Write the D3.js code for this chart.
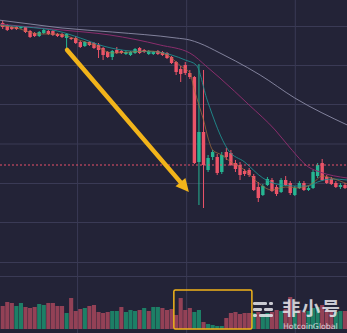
<!DOCTYPE html>
<html><head><meta charset="utf-8">
<script src="https://cdn.jsdelivr.net/npm/d3@7"></script>
<style>html,body{margin:0;padding:0;background:#232337;overflow:hidden}</style>
</head><body><svg id="c" width="347" height="333"></svg>
<script>
// ---- data (price values in chart units) ----
const opens  = [227,225,223,223,222,223,219,217,214,217, 219,219,216,216,212,212,212,208,204,208, 207,205,202,198,193,200,199,196,195,197, 202,200,196,196,199,198,197,193,188,181, 185,177,173,88,118,80,93,93,78,98, 97,87,85,79,80,74,63,55,65,70, 63,58,70,67,55,62,67,60,62,74, 87,73,71,67,63,65];
const closes = [223,220,221,221,223,218,213,214,218,220, 216,215,214,213,216,211,207,203,208,205, 202,200,195,193,199,197,197,198,198,201, 197,198,199,198,196,195,192,187,178,176, 177,173,87,118,85,92,98,77,95,93, 85,81,75,76,75,60,52,64,71,59, 56,70,65,57,62,67,60,62,78,85, 70,67,66,63,65,62];
const highs  = [229,226,224,224,224,224,220,218,219,221, 220,220,217,217,217,213,214,209,209,209, 208,207,203,199,200,203,200,199,199,202, 203,201,200,199,200,199,198,194,189,184, 188,180,174,186,180,95,100,96,98,102, 100,90,88,81,82,76,68,66,73,72, 65,72,74,69,64,69,69,64,80,87, 91,75,73,69,67,67];
const lows   = [221,219,220,220,221,217,212,213,213,216, 215,214,213,212,202,210,206,202,203,204, 201,192,190,192,190,196,196,195,194,196, 196,197,195,195,195,194,191,186,175,168, 175,171,86,45,42,78,90,75,76,90, 84,78,70,74,73,59,48,54,64,58, 54,57,64,55,54,61,59,59,61,72, 69,66,65,62,61,61];
const volumes = [23,27,26,23,26,22,21,22,25,24, 26,26,23,23,16,31,18,20,21,23, 24,17,16,17,18,18,22,17,19,18, 19,21,18,22,22,21,19,20,14,31, 19,21,17,19,7,5,4,3,3,11, 16,17,15,16,16,16,17,15,16,17, 19,18,20,32,18,19,17,18,21,22, 24,19,18,17,18,18];
const volumeDir = ("ddduuddduu"+"ddddudddud"+"dddduuduuu"+"duduuddddd"+"dduuduuuud"+"ddddduduud"+"duddudduuu"+"ddduud").split("");

// moving averages read at sample candles: [candle index, value]
const maFast  = [[-1,225],[3,222],[8,216],[12,216],[16,211],[20,205],[24,197],[28,198],[32,199],[36,195],[39,184],[41,177],[42,160],[43,145],[44,130],[45,112],[46,100],[48,95],[50,88],[53,80],[56,67],[59,60],[62,63],[65,62],[68,67],[70,74],[72,72],[75.5,66]];
const maTeal  = [[-1,225],[5,223],[12,219],[17,212],[22,204],[28,199],[34,198],[37,195],[40,190],[42.4,185],[44.8,150],[49.4,100],[53,88],[57,72],[60,66],[64,64],[67,64],[69,68],[72,71],[75.5,70]];
const maPurple= [[-1,226],[13,220],[23.5,215],[34.5,205],[41,197],[44.8,183],[47.6,172],[54,145],[59.7,120],[63,102],[67,83],[69.5,78],[75.5,72]];
const maGrey  = [[-1,230],[6,226],[13,222],[24,218],[38,212],[41,210],[43,207],[47.6,197],[51,189],[56.4,175],[64,152],[75.5,125]];

const priceGrid = [224,185,146,106.5,67,28];
const volumeGrid = [53,67];
const timeGrid = [16.3,40.2,64.0];
const markLevel = 85;           // dotted level
const arrowFrom = [14.1,200], arrowTo = [40.8,58];
const boxRange = [37.5,54.6], boxVol = [39,0];
const watermark = "非小号", watermarkSub = "HotcoinGlobal";

// ---- scales ----
const W = 347, H = 333;
const x = d3.scaleLinear().domain([0,75]).range([2.7,345]);
const y = d3.scaleLinear().domain([0,250]).range([250,0]);
const yv = d3.scaleLinear().domain([0,50]).range([329,279]);

const svg = d3.select("#c");
svg.append("rect").attr("width",W).attr("height",H).attr("fill","#232337");

const gridC = "#3a3a55";
svg.append("g").call(d3.axisRight(y).tickValues(priceGrid).tickSize(W).tickFormat(""))
  .call(g=>g.select(".domain").remove())
  .call(g=>g.selectAll("line").attr("stroke",gridC));
svg.append("g").call(d3.axisRight(yv).tickValues(volumeGrid).tickSize(W).tickFormat(""))
  .call(g=>g.select(".domain").remove())
  .call(g=>g.selectAll("line").attr("stroke",gridC));
svg.append("g").call(d3.axisBottom(x).tickValues(timeGrid).tickSize(H).tickFormat(""))
  .call(g=>g.select(".domain").remove())
  .call(g=>g.selectAll("line").attr("stroke",gridC));

// volume bars
const upV = "#1d8a6c", dnV = "#a0455a";
svg.append("g").selectAll("rect").data(volumes).join("rect")
  .attr("x",(d,i)=>x(i)-2.05).attr("width",4.1)
  .attr("y",d=>yv(d)).attr("height",d=>yv(0)-yv(d))
  .attr("fill",(d,i)=>volumeDir[i]==="u"?upV:dnV).attr("opacity",0.9);

// candles
const up = "#26b592", dn = "#ec5468";
const cd = opens.map((o,i)=>({i,o,c:closes[i],h:highs[i],l:lows[i]}));
const cg = svg.append("g");
cg.selectAll("line").data(cd).join("line")
  .attr("x1",d=>x(d.i)).attr("x2",d=>x(d.i))
  .attr("y1",d=>y(d.h)).attr("y2",d=>y(d.l))
  .attr("stroke",d=>d.c>=d.o?up:dn).attr("stroke-width",1);
cg.selectAll("rect").data(cd).join("rect")
  .attr("x",d=>x(d.i)-1.7).attr("width",3.4)
  .attr("y",d=>y(Math.max(d.o,d.c)))
  .attr("height",d=>Math.max(1,Math.abs(y(d.o)-y(d.c))))
  .attr("fill",d=>d.c>=d.o?up:dn);

// moving averages
const line = d3.line().x(d=>x(d[0])).y(d=>y(d[1])).curve(d3.curveMonotoneX);
[[maGrey,"#8c8ca6",0.9],[maPurple,"#8a2d6c",1],[maTeal,"#1f8e8e",0.9],[maFast,"#a8713c",0.7]]
  .forEach(([d,c,o])=>svg.append("path").datum(d).attr("d",line)
    .attr("fill","none").attr("stroke",c).attr("stroke-width",1).attr("opacity",o));

// dotted level line
svg.append("line").attr("x1",0).attr("x2",W).attr("y1",y(markLevel)).attr("y2",y(markLevel))
  .attr("stroke","#e8506a").attr("stroke-width",1).attr("stroke-dasharray","2,2");

// arrow
const gold = "#f2b41a";
const ax0 = x(arrowFrom[0]), ay0 = y(arrowFrom[1]), ax1 = x(arrowTo[0]), ay1 = y(arrowTo[1]);
const ang = Math.atan2(ay1-ay0, ax1-ax0);
const headL = 13, headW = 6.5;
const bx = ax1 - headL*Math.cos(ang), by = ay1 - headL*Math.sin(ang);
svg.append("line").attr("x1",ax0).attr("y1",ay0).attr("x2",bx).attr("y2",by)
  .attr("stroke",gold).attr("stroke-width",4.5).attr("stroke-linecap","round");
const nx = -Math.sin(ang), ny = Math.cos(ang);
svg.append("path").attr("d",`M${ax1},${ay1}L${bx+nx*headW},${by+ny*headW}L${bx-nx*headW},${by-ny*headW}Z`)
  .attr("fill",gold);

// highlight box on volume
svg.append("rect").attr("x",x(boxRange[0])).attr("y",yv(boxVol[0]))
  .attr("width",x(boxRange[1])-x(boxRange[0])).attr("height",yv(boxVol[1])-yv(boxVol[0]))
  .attr("fill","none").attr("stroke",gold).attr("stroke-width",1.5).attr("rx",1.5);

// watermark
const wm = svg.append("g").attr("opacity",0.85);
const icon = wm.append("g").attr("fill","#e8e8ee");
[[253,302,14,3],[269,302,4,3],[253,308,9,3],[264,308,9,3],[253,314,4,3],[259,314,14,3]].forEach(r=>
  icon.append("rect").attr("x",r[0]).attr("y",r[1]).attr("width",r[2]).attr("height",r[3]).attr("rx",1.2));
wm.append("text").attr("x",282).attr("y",315).text(watermark)
  .attr("font-family","Noto Sans CJK SC").attr("font-weight","bold").attr("font-size",18.5)
  .attr("textLength",58).attr("fill","#e8e8ee");
wm.append("text").attr("x",283).attr("y",328.5).text(watermarkSub)
  .attr("font-family","DejaVu Sans").attr("font-size",7.8).attr("fill","#e8e8ee");
</script></body></html>
